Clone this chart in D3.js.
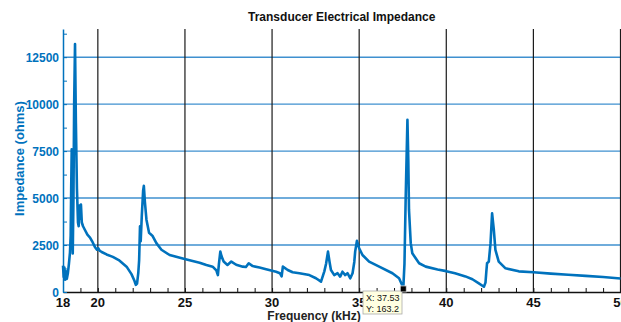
<!DOCTYPE html>
<html>
<head>
<meta charset="utf-8">
<script src="https://cdn.jsdelivr.net/npm/d3@7"></script>
<style>
  body { margin: 0; background: #fff; }
  svg { display: block; font-family: "Liberation Sans", Arial, sans-serif; }
</style>
</head>
<body>
<div id="chart"></div>
<script>
// frequency (kHz)
var freq = [18.00, 18.04, 18.08, 18.12, 18.17, 18.22, 18.28, 18.34, 18.40, 18.44, 18.47, 18.50, 18.53, 18.56,
  18.60, 18.64, 18.69, 18.74, 18.80, 18.86, 18.90, 18.94, 18.98, 19.03, 19.08, 19.15, 19.26, 19.40, 19.55,
  19.70, 19.83, 19.95, 20.02, 20.10, 20.22, 20.50, 20.86, 21.20, 21.65, 21.93, 22.10, 22.18, 22.25, 22.32,
  22.37, 22.42, 22.46, 22.52, 22.60, 22.64, 22.70, 22.79, 22.94, 23.13, 23.36, 23.65, 24.12, 24.98, 25.84,
  26.23, 26.59, 26.80, 26.89, 26.95, 27.03, 27.10, 27.22, 27.44, 27.66, 27.94, 28.32, 28.50, 28.66, 28.89,
  29.28, 29.66, 30.23, 30.45, 30.55, 30.62, 30.90, 31.18, 31.57, 32.14, 32.52, 32.81, 33.00, 33.10, 33.21,
  33.30, 33.38, 33.57, 33.76, 33.91, 34.04, 34.20, 34.33, 34.49, 34.62, 34.72, 34.77, 34.87, 35.00, 35.19,
  35.57, 36.15, 36.91, 37.29, 37.45, 37.53, 37.60, 37.67, 37.77, 37.82, 37.86, 37.96, 38.05, 38.44, 38.82,
  39.50, 40.00, 40.50, 41.10, 41.50, 41.87, 42.16, 42.25, 42.30, 42.34, 42.44, 42.54, 42.63, 42.73, 42.82,
  43.01, 43.40, 44.16, 45.00, 46.00, 47.00, 48.00, 49.00, 50.00];

// impedance (ohms)
var impedance = [1400, 800, 1300, 650, 1100, 700, 1000, 1500, 2100, 3000, 5500, 7600, 4500, 2050,
  5000, 10000, 13200, 9000, 5500, 3700, 3500, 4600, 3900, 4650, 3700, 3500, 3300, 3050, 2900,
  2650, 2400, 2250, 2330, 2200, 2130, 2000, 1870, 1700, 1350, 950, 600, 380, 450, 1000,
  1700, 3500, 2700, 4000, 5400, 5650, 4800, 3850, 3150, 3000, 2600, 2250, 1970, 1760, 1560,
  1440, 1350, 1150, 900, 1500, 2150, 1900, 1620, 1440, 1620, 1450, 1350, 1330, 1530, 1380,
  1300, 1210, 1080, 1000, 830, 1350, 1170, 1050, 1000, 900, 730, 550, 1100, 1500, 2150,
  1600, 1170, 900, 1000, 820, 1080, 900, 1000, 730, 1000, 1600, 2150, 2720, 2330, 1970,
  1620, 1350, 1000, 730, 400, 163.2, 1500, 5000, 9170, 7000, 4370, 2600, 2060, 1530, 1350,
  1200, 1110, 1000, 830, 680, 460, 280, 500, 1100, 1530, 1620, 2600, 4190, 3300, 2240,
  1620, 1260, 1100, 1050, 980, 920, 860, 800, 720];

var xTicks = [18, 20, 25, 30, 35, 40, 45, 50];
var yTicks = [0, 2500, 5000, 7500, 10000, 12500];
var tipPoint = {f: 37.53, z: 163.2};

var data = freq.map(function (f, i) { return {f: f, z: impedance[i]}; });

var width = 621, height = 322;
var plotLeft = 63, plotRight = 620.5, plotTop = 29, plotBottom = 292;
var blue = "#0072BD";

var svg = d3.select("#chart").append("svg")
  .attr("width", width)
  .attr("height", height);

var x = d3.scaleLinear().domain([18, 50]).range([plotLeft, plotRight]);
var y = d3.scaleLinear().domain([0, 14000]).range([plotBottom, plotTop]);

// horizontal grid (blue)
svg.append("g")
  .selectAll("line")
  .data(yTicks.slice(1))
  .enter().append("line")
  .attr("x1", plotLeft).attr("x2", plotRight)
  .attr("y1", function (d) { return y(d); })
  .attr("y2", function (d) { return y(d); })
  .attr("stroke", "#3f90cf")
  .attr("stroke-width", 1.4);

// vertical grid (black)
svg.append("g")
  .selectAll("line")
  .data(xTicks.slice(1))
  .enter().append("line")
  .attr("x1", function (d) { return x(d); })
  .attr("x2", function (d) { return x(d); })
  .attr("y1", plotTop).attr("y2", plotBottom)
  .attr("stroke", "#1a1a1a")
  .attr("stroke-width", 1.2);

// x axis with minor ticks pointing up
var xAxis = svg.append("g")
  .attr("transform", "translate(0," + plotBottom + ")")
  .call(d3.axisBottom(x).tickValues(d3.range(18, 51, 1)).tickSize(-4).tickFormat("").tickSizeOuter(0));
xAxis.select(".domain").attr("stroke", "#111").attr("stroke-width", 1.3);
xAxis.selectAll(".tick line").attr("stroke", "#111");

svg.append("g")
  .selectAll("text")
  .data(xTicks)
  .enter().append("text")
  .attr("x", function (d) { return x(d); })
  .attr("y", 307)
  .attr("text-anchor", "middle")
  .attr("font-size", "13px")
  .attr("font-weight", "bold")
  .attr("fill", "#111")
  .text(function (d) { return d; });

// y axis (blue) with ticks pointing right
var yAxis = svg.append("g")
  .attr("transform", "translate(" + plotLeft + ",0)")
  .call(d3.axisRight(y).tickValues(d3.range(0, 14000, 1250)).tickSize(4).tickFormat("").tickSizeOuter(0));
yAxis.select(".domain").attr("stroke", blue).attr("stroke-width", 1.5);
yAxis.selectAll(".tick line").attr("stroke", blue);

svg.append("g")
  .selectAll("text")
  .data(yTicks)
  .enter().append("text")
  .attr("x", 59)
  .attr("y", function (d) { return y(d) + 4.5; })
  .attr("text-anchor", "end")
  .attr("font-size", "12px")
  .attr("font-weight", "bold")
  .attr("fill", blue)
  .text(function (d) { return d; });

// impedance curve
var line = d3.line()
  .x(function (d) { return x(d.f); })
  .y(function (d) { return y(d.z); });

svg.append("path")
  .datum(data)
  .attr("d", line)
  .attr("fill", "none")
  .attr("stroke", blue)
  .attr("stroke-width", 2.6)
  .attr("stroke-linejoin", "round");

// title and axis labels
svg.append("text")
  .attr("x", (plotLeft + plotRight) / 2)
  .attr("y", 21)
  .attr("text-anchor", "middle")
  .attr("font-size", "12px")
  .attr("font-weight", "bold")
  .attr("fill", "#111")
  .text("Transducer Electrical Impedance");

svg.append("text")
  .attr("transform", "translate(24," + ((plotTop + plotBottom) / 2 - 2) + ") rotate(-90)")
  .attr("text-anchor", "middle")
  .attr("font-size", "13px")
  .attr("font-weight", "bold")
  .attr("fill", blue)
  .text("Impedance (ohms)");

svg.append("text")
  .attr("x", 314)
  .attr("y", 320)
  .attr("text-anchor", "middle")
  .attr("font-size", "12px")
  .attr("font-weight", "bold")
  .attr("fill", "#222")
  .text("Frequency (kHz)");

// data tip
var tip = svg.append("g");
tip.append("rect")
  .attr("x", 363).attr("y", 291)
  .attr("width", 39).attr("height", 23)
  .attr("fill", "#ffffe1")
  .attr("stroke", "#aaa")
  .attr("stroke-width", 0.8);
tip.append("text")
  .attr("x", 366).attr("y", 301)
  .attr("font-size", "9px")
  .attr("fill", "#111")
  .text("X: " + tipPoint.f);
tip.append("text")
  .attr("x", 366).attr("y", 311.5)
  .attr("font-size", "9px")
  .attr("fill", "#111")
  .text("Y: " + tipPoint.z);
tip.append("rect")
  .attr("x", x(tipPoint.f) - 3).attr("y", y(tipPoint.z) - 3)
  .attr("width", 6).attr("height", 6)
  .attr("fill", "#000")
  .attr("stroke", "#ddd")
  .attr("stroke-width", 0.8);
</script>
</body>
</html>
